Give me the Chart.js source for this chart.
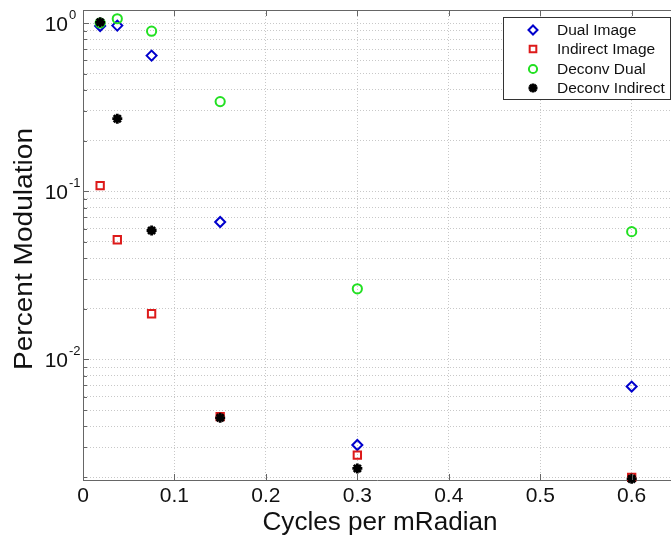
<!DOCTYPE html>
<html>
<head>
<meta charset="utf-8">
<script src="https://cdn.jsdelivr.net/npm/chart.js@4/dist/chart.umd.min.js"></script>
<style>
  html, body { margin: 0; padding: 0; background: #fff; overflow: hidden; }
  #wrap { width: 671px; height: 542px; }
</style>
</head>
<body>
<div id="wrap"><canvas id="chart"></canvas></div>
<script>
// spatial frequencies (cycles per mRadian)
var cycles = [0.01875, 0.0375, 0.075, 0.15, 0.3, 0.6];

// modulation, one list per series
var dualImage      = [0.96, 0.965, 0.64, 0.0656, 0.0031, 0.0069];
var indirectImage  = [0.108, 0.0515, 0.0187, 0.00457, 0.0027, 0.00199];
var deconvDual     = [1.0, 1.06, 0.894, 0.341, 0.0263, 0.0575];
var deconvIndirect = [1.01, 0.27, 0.0584, 0.0045, 0.00225, 0.00195];

var seriesNames = ['Dual Image', 'Indirect Image', 'Deconv Dual', 'Deconv Indirect'];

var xTicks = [0, 0.1, 0.2, 0.3, 0.4, 0.5, 0.6];
var xTickLabels = ['0', '0.1', '0.2', '0.3', '0.4', '0.5', '0.6'];
var yTicks = [0.002, 0.003, 0.004, 0.005, 0.006, 0.007, 0.008, 0.009,
              0.01, 0.02, 0.03, 0.04, 0.05, 0.06, 0.07, 0.08, 0.09,
              0.1, 0.2, 0.3, 0.4, 0.5, 0.6, 0.7, 0.8, 0.9, 1];
var yMajor = [0.01, 0.1, 1];
var yMajorExp = ['-2', '-1', '0'];

var xMin = 0, xMax = 0.643;
var yMin = 0.00192, yMax = 1.195;

var FONT = '"Liberation Sans", Arial, Helvetica, sans-serif';

function pts(ys) {
    return cycles.map(function (c, i) { return {x: c, y: ys[i]}; });
}

var styles = [
    {pointStyle: 'rectRot', radius: 5,   borderWidth: 2,   color: '#0000cc', fill: 'rgba(0,0,0,0)'},
    {pointStyle: 'rect',    radius: 5.2, borderWidth: 2,   color: '#dd1a1a', fill: 'rgba(0,0,0,0)'},
    {pointStyle: 'circle',  radius: 4.6, borderWidth: 2,   color: '#22e022', fill: 'rgba(0,0,0,0)'},
    {pointStyle: 'star',    radius: 5,   borderWidth: 2.8, color: '#000000', fill: '#000000'}
];
var seriesData = [dualImage, indirectImage, deconvDual, deconvIndirect];

var datasets = seriesData.map(function (d, i) {
    var s = styles[i];
    return {
        label: seriesNames[i],
        data: pts(d),
        showLine: false,
        clip: false,
        order: 4 - i,
        pointStyle: s.pointStyle,
        pointRadius: s.radius,
        pointHoverRadius: s.radius,
        pointBorderWidth: s.borderWidth,
        pointBorderColor: s.color,
        pointBackgroundColor: s.fill
    };
});

function fitText(ctx, text, x, y, w) {
    var m = ctx.measureText(text).width;
    ctx.save();
    ctx.translate(x, y);
    ctx.scale(w / m, 1);
    ctx.fillText(text, 0, 0);
    ctx.restore();
}

var matlabFrame = {
    id: 'matlabFrame',
    afterDraw: function (chart) {
        var ctx = chart.ctx, a = chart.chartArea;
        var xs = chart.scales.x, ys = chart.scales.y;
        ctx.save();
        ctx.strokeStyle = '#666';
        ctx.lineWidth = 1;

        // top of the box
        ctx.beginPath();
        ctx.moveTo(a.left, Math.round(a.top) + 0.5);
        ctx.lineTo(a.right, Math.round(a.top) + 0.5);
        ctx.stroke();

        // inward tick marks
        ctx.beginPath();
        xTicks.forEach(function (v) {
            var px = Math.round(xs.getPixelForValue(v)) + 0.5;
            ctx.moveTo(px, a.bottom); ctx.lineTo(px, a.bottom - 6);
            ctx.moveTo(px, a.top); ctx.lineTo(px, a.top + 6);
        });
        yTicks.forEach(function (v) {
            var py = Math.round(ys.getPixelForValue(v)) + 0.5;
            var len = yMajor.indexOf(v) >= 0 ? 6 : 4;
            ctx.moveTo(a.left, py); ctx.lineTo(a.left + len, py);
        });
        ctx.stroke();

        ctx.fillStyle = '#111';

        // x tick labels
        ctx.font = '21px ' + FONT;
        ctx.textAlign = 'center';
        ctx.textBaseline = 'middle';
        xTicks.forEach(function (v, i) {
            ctx.fillText(xTickLabels[i], xs.getPixelForValue(v), 496);
        });

        // y tick labels 10^n
        yMajor.forEach(function (v, i) {
            var py = ys.getPixelForValue(v);
            ctx.textAlign = 'right';
            ctx.textBaseline = 'middle';
            ctx.font = '21px ' + FONT;
            ctx.fillText('10', 68, py + 2);
            ctx.textAlign = 'left';
            ctx.font = '13px ' + FONT;
            ctx.fillText(yMajorExp[i], 69, py - 8);
        });

        // axis titles
        ctx.textAlign = 'center';
        ctx.textBaseline = 'alphabetic';
        ctx.font = '26px ' + FONT;
        fitText(ctx, 'Cycles per mRadian', 380, 530, 235);
        ctx.save();
        ctx.translate(32, 249);
        ctx.rotate(-Math.PI / 2);
        ctx.font = '25px ' + FONT;
        fitText(ctx, 'Percent Modulation', 0, 0, 242);
        ctx.restore();

        // legend box
        ctx.fillStyle = '#fff';
        ctx.fillRect(503, 17, 167, 82);
        ctx.strokeStyle = '#333';
        ctx.strokeRect(503.5, 17.5, 167, 82);
        var rows = [30, 49, 69, 88];
        ctx.font = '15.5px ' + FONT;
        ctx.textAlign = 'left';
        ctx.textBaseline = 'middle';
        seriesNames.forEach(function (name, i) {
            var s = styles[i];
            ctx.save();
            ctx.strokeStyle = s.color;
            ctx.fillStyle = s.fill;
            ctx.lineWidth = s.borderWidth;
            Chart.helpers.drawPoint(ctx, {pointStyle: s.pointStyle, radius: s.radius - 0.5, rotation: 0, borderWidth: s.borderWidth}, 533, rows[i]);
            ctx.restore();
            ctx.fillStyle = '#111';
            ctx.fillText(name, 557, rows[i] + 1);
        });
        ctx.restore();
    }
};

new Chart(document.getElementById('chart'), {
    type: 'scatter',
    data: {datasets: datasets},
    plugins: [matlabFrame],
    options: {
        responsive: true,
        maintainAspectRatio: false,
        animation: false,
        devicePixelRatio: 1,
        layout: {autoPadding: false, padding: {top: 10, left: 0, right: 0, bottom: 0}},
        plugins: {legend: {display: false}, tooltip: {enabled: false}},
        scales: {
            x: {
                type: 'linear',
                min: xMin,
                max: xMax,
                afterBuildTicks: function (scale) {
                    scale.ticks = xTicks.map(function (v) { return {value: v}; });
                },
                afterFit: function (scale) { scale.height = 62; },
                ticks: {display: false},
                grid: {color: '#c8c8c8', drawTicks: false, lineWidth: 1},
                border: {display: true, color: '#666', dash: [1, 2]}
            },
            y: {
                type: 'logarithmic',
                min: yMin,
                max: yMax,
                afterBuildTicks: function (scale) {
                    scale.ticks = yTicks.map(function (v) { return {value: v, major: yMajor.indexOf(v) >= 0}; });
                },
                afterFit: function (scale) { scale.width = 83; },
                ticks: {display: false},
                grid: {color: '#c8c8c8', drawTicks: false, lineWidth: 1},
                border: {display: true, color: '#666', dash: [1, 2]}
            }
        }
    }
});
</script>
</body>
</html>
